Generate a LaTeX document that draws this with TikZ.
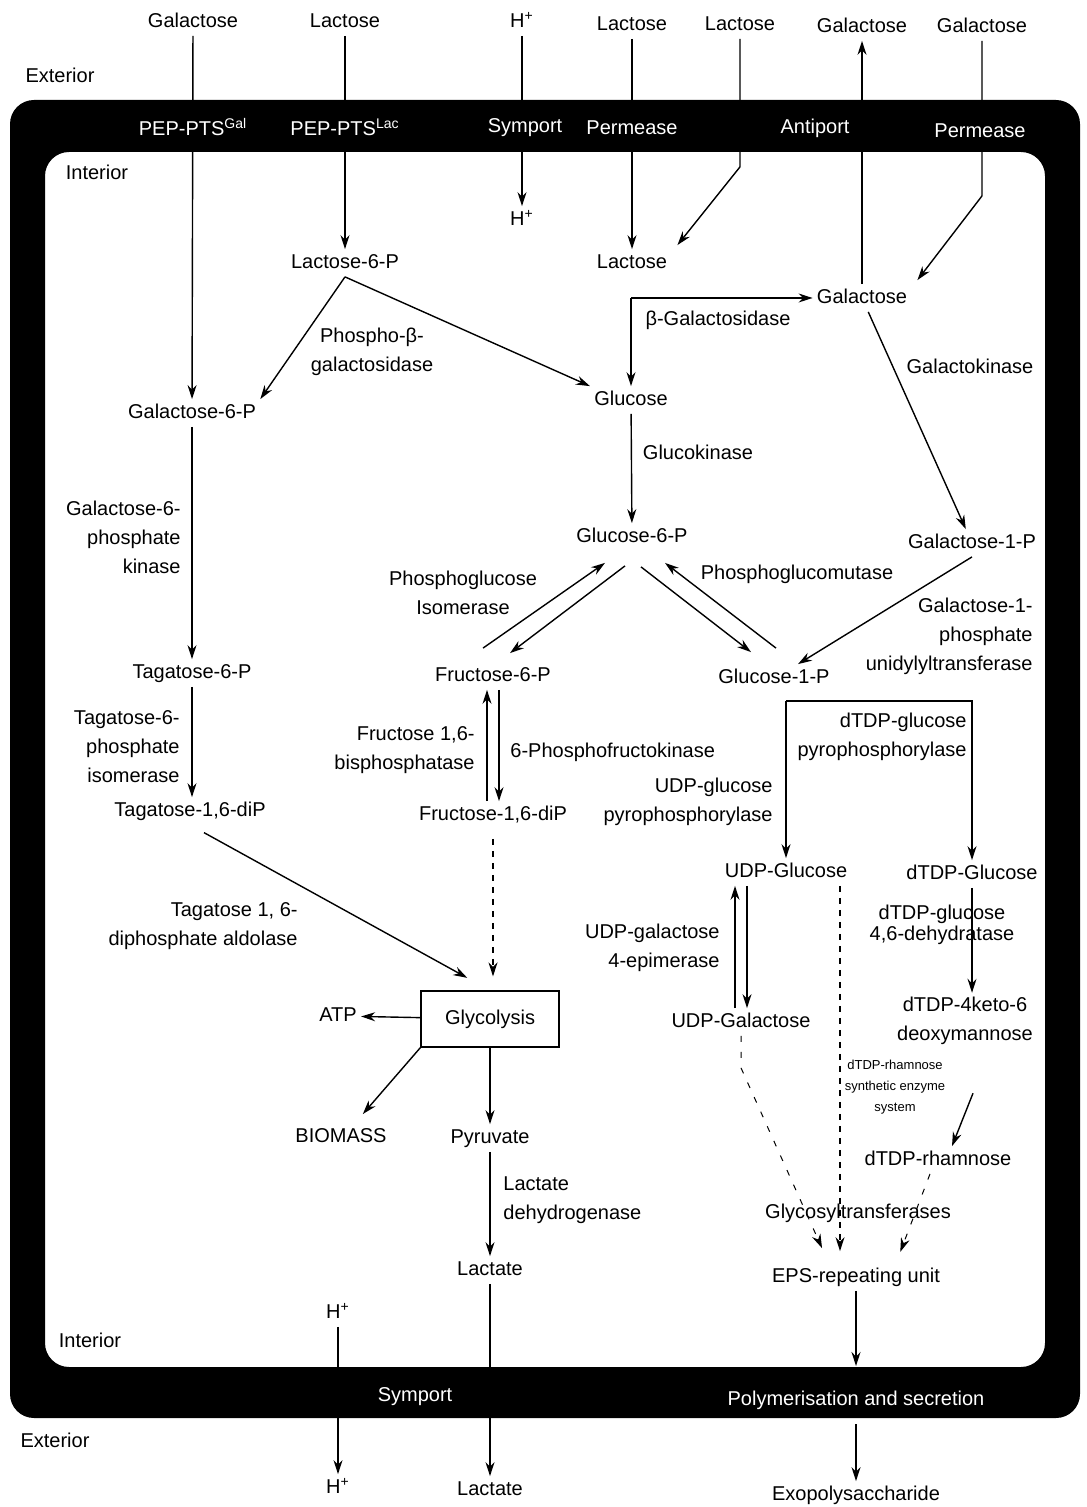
\documentclass[tikz,border=0pt]{standalone}
\usepackage{fontspec}
\setmainfont{Liberation Sans}
\usetikzlibrary{arrows.meta, positioning, calc}

\begin{document}
\begin{tikzpicture}[x=0.5pt, y=-0.5pt,
  every node/.style={font=\fontsize{10}{14.5}\selectfont},
  met/.style={inner sep=2pt, text height=7.5pt, text depth=2pt},
  enz/.style={align=center, inner sep=0pt},
  memtxt/.style={text=white, inner sep=1pt},
  flow/.style={->, line width=0.7pt},
  loose/.style={dash pattern=on 3pt off 5pt, line width=0.5pt},
  >={Stealth[length=7pt, width=4.5pt]}]

  \useasboundingbox (0,0) rectangle (1086,1507);

  % --- Outside, top row ---
  \foreach \nm/\x/\y/\txt in {galA/193/22/Galactose, lacA/345/22/Lactose,
      hA/522/22/{H\textsuperscript{+}}, lacB/632/25/Lactose, lacC/740/25/Lactose,
      galB/862/27/Galactose, galC/982/27/Galactose}
    \node[met] (\nm) at (\x,\y) {\txt};
  \node (extA) at (60,75) {Exterior};
  \node (intA) at (97,172) {Interior};

  % --- Metabolites ---
  \node[met] (hB) at (522,220) {H\textsuperscript{+}};
  \node[met] (lac6p) at (345,263) {Lactose-6-P};
  \node[met] (lacD) at (632,263) {Lactose};
  \node[met] (galD) at (862,298) {Galactose};
  \node[met] (glc) at (631,400) {Glucose};
  \node[met] (gal6p) at (192,413) {Galactose-6-P};
  \node[met] (glc6p) at (632,537) {Glucose-6-P};
  \node[met] (gal1p) at (972,543) {Galactose-1-P};
  \node[met] (tag6p) at (192,673) {Tagatose-6-P};
  \node[met] (fru6p) at (493,676) {Fructose-6-P};
  \node[met] (glc1p) at (774,678) {Glucose-1-P};
  \node[met] (tag16p) at (190,811) {Tagatose-1,6-diP};
  \node[met] (fru16p) at (493,815) {Fructose-1,6-diP};
  \node[met] (udpglc) at (786,872) {UDP-Glucose};
  \node[met] (dtdpglc) at (972,874) {dTDP-Glucose};
  \node[draw, line width=0.6pt, minimum width=69pt, minimum height=28pt] (glyco) at (490,1019) {Glycolysis};
  \node[met] (atp) at (338,1016) {ATP};
  \node[met] (udpgal) at (741,1022) {UDP-Galactose};
  \node[enz, inner sep=2pt] (keto) at (965,1021) {dTDP-4keto-6\\deoxymannose};
  \node[met] (biomass) at (341,1137) {BIOMASS};
  \node[met] (pyr) at (490,1138) {Pyruvate};
  \node[met] (rham) at (938,1160) {dTDP-rhamnose};
  \node[met] (lact) at (490,1270) {Lactate};
  \node[met] (eps) at (856,1277) {EPS-repeating unit};
  \node[met] (hC) at (338,1313) {H\textsuperscript{+}};
  \node (intB) at (90,1340) {Interior};
  \node (extB) at (55,1440) {Exterior};
  \node[met] (hD) at (338,1488) {H\textsuperscript{+}};
  \node[met] (lactE) at (490,1490) {Lactate};
  \node[met] (exo) at (856,1495) {Exopolysaccharide};

  % --- Enzymes ---
  \node[enz] (ePbgal) at (372,352) {Phospho-β-\\galactosidase};
  \node[enz] (eBgal) at (718,320) {β-Galactosidase};
  \node[enz] (eGlck) at (698,452) {Glucokinase};
  \node[enz] (eGalk) at (970,366) {Galactokinase};
  \node[enz, align=right, anchor=east] (eG6pk) at (181,537) {Galactose-6-\\phosphate\\kinase};
  \node[enz] (ePgi) at (463,593) {Phosphoglucose\\Isomerase};
  \node[enz] (ePgm) at (797,574) {Phosphoglucomutase};
  \node[enz, align=right, anchor=east] (eGalt) at (1033,636) {Galactose-1-\\phosphate\\unidylyltransferase};
  \node[enz, align=right, anchor=east] (eT6pi) at (180,747) {Tagatose-6-\\phosphate\\isomerase};
  \node[enz, align=right, anchor=east] (eFbp) at (475,750) {Fructose 1,6-\\bisphosphatase};
  \node[enz, anchor=west] (ePfk) at (510,752) {6-Phosphofructokinase};
  \node[enz, align=right, anchor=east] (eDtdpp) at (967,737) {dTDP-glucose\\pyrophosphorylase};
  \node[enz, align=right, anchor=east] (eUdpp) at (773,802) {UDP-glucose\\pyrophosphorylase};
  \node[enz, align=right, anchor=east] (eAld) at (298,926) {Tagatose 1, 6-\\diphosphate aldolase};
  \node[enz, align=right, anchor=east] (eEpi) at (720,948) {UDP-galactose\\4-epimerase};
  \node[enz, font=\fontsize{10}{10.5}\selectfont] (eDehy) at (942,925) {dTDP-glucose\\4,6-dehydratase};
  \node[enz, font=\fontsize{6.5}{10.5}\selectfont] (eRham) at (895,1087) {dTDP-rhamnose\\synthetic enzyme\\system};
  \node[enz] (eGlyt) at (858,1213) {Glycosyltransferases};
  \node[enz, align=left, anchor=west] (eLdh) at (503,1200) {Lactate\\dehydrogenase};

  % --- Uptake ---
  \draw[flow] (galA) -- (gal6p);
  \draw[flow] (lacA) -- (lac6p);
  \draw[flow] (hA) -- (hB);
  \draw[flow] (lacB) -- (lacD);
  \draw[flow] (lacC.south) -- ++(0,128) -- ([shift={(6,-4)}]lacD.north east);
  \draw[flow] (galD) -- (galB);
  \draw[flow] (galC.south) -- ++(0,155) -- ([shift={(6,-4)}]galD.north east);

  % --- Lactose split ---
  \coordinate (bgal) at (glc |- galD);
  \draw[flow] (bgal) -- (galD);
  \draw[flow] (bgal) -- (glc);
  \draw[flow] (lac6p.south) -- (gal6p.north east);
  \draw[flow] (lac6p.south) -- (glc.north west);

  % --- Tagatose pathway ---
  \draw[flow] (gal6p) -- (tag6p);
  \draw[flow] (tag6p) -- (tag6p |- tag16p.north);
  \draw[flow, shorten <=8pt, shorten >=13pt] (tag16p.south) -- (glyco.north);

  % --- Glucose, Leloir ---
  \draw[flow] (glc) -- (glc6p);
  \draw[flow] ([shift={(-10,-14)}]fru6p.north) -- ([shift={(-27,12)}]glc6p.south);
  \draw[flow] ([shift={(-7,15)}]glc6p.south) -- ([shift={(17,-9)}]fru6p.north);
  \draw[flow] ([shift={(9,16)}]glc6p.south) -- ([shift={(-23,-12)}]glc1p.north);
  \draw[flow] ([shift={(2,-16)}]glc1p.north) -- ([shift={(33,12)}]glc6p.south);
  \draw[flow] (galD) -- (gal1p);
  \draw[flow] (gal1p.south) -- ([xshift=12pt]glc1p.north);

  % --- Fructose, glycolysis ---
  \draw[flow] ([xshift=-3pt]fru16p.north) -- ([xshift=-3pt]fru6p.south);
  \draw[flow] ([xshift=3pt]fru6p.south) -- ([xshift=3pt]fru16p.north);
  \draw[flow, dashed, shorten <=5pt, shorten >=7pt] (fru16p.south) -- (fru16p.south |- glyco.north);
  \draw[flow] (glyco) -- (atp);
  \draw[flow, shorten >=6pt] (glyco.south west) -- ([xshift=7pt]biomass.north);
  \draw[flow] (glyco) -- (pyr);
  \draw[flow] (pyr) -- (lact);
  \draw[flow] (lact) -- (lactE);
  \draw[flow] (hC) -- (hD);
  \coordinate (secIn) at (856,1366);
  \coordinate (secOut) at (856,1424);
  \draw[flow] (eps) -- (secIn);
  \draw[flow] (secOut) -- (exo);

  % --- Nucleotide sugars ---
  \coordinate (split) at (786,701);
  \draw[flow] (split) -- (udpglc);
  \draw[flow] (split) -| (dtdpglc);
  \draw[flow] ($(udpgal.north)+(-3pt,0)$) -- ($(udpgal.north |- udpglc.south)+(-3pt,0)$);
  \draw[flow] ($(udpgal.north |- udpglc.south)+(3pt,0)$) -- ($(udpgal.north)+(3pt,0)$);
  \draw[flow, loose] (udpgal.south) -- ++(0,32) -- ([shift={(-34,-15)}]eps.north);
  \coordinate (gtIn) at ($(udpglc.south)+(27pt,0)$);
  \draw[flow, dashed, shorten >=6pt] (gtIn) -- (gtIn |- eps.north);
  \draw[flow] (dtdpglc) -- (dtdpglc |- keto.north);
  \draw[flow] ([shift={(8,44)}]keto.south) -- ([xshift=7pt]rham.north);
  \draw[flow, loose, shorten >=6pt] ([xshift=-4pt]rham.south) -- ([xshift=20pt]eps.north);

  % Membrane
  \fill[even odd rule, rounded corners=12pt]
    (10,100) rectangle (1080,1418) (45,152) rectangle (1045,1367);
  \foreach \nm/\x/\y/\txt in {ptsGal/193/127/{PEP-PTS\textsuperscript{Gal}},
      ptsLac/345/127/{PEP-PTS\textsuperscript{Lac}}, symA/525/128/Symport,
      permA/632/128/Permease, antiA/815/128/Antiport, permB/980/131/Permease,
      symB/415/1397/Symport, polySec/856/1400/{Polymerisation and secretion}}
    \node[memtxt] (\nm) at (\x,\y) {\txt};
\end{tikzpicture}
\end{document}
